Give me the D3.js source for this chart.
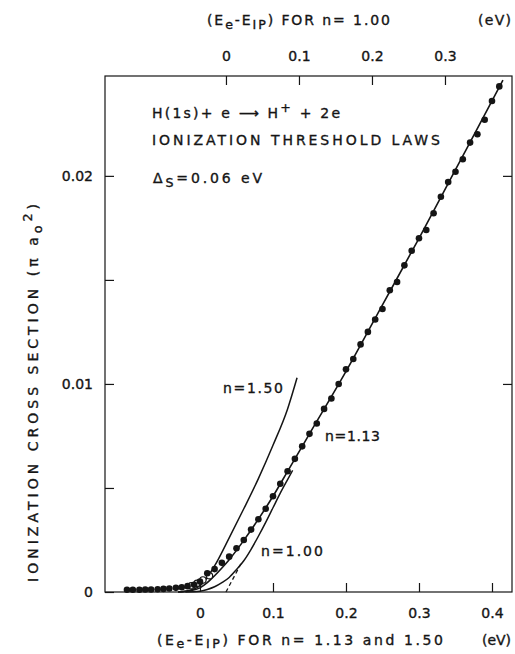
<!DOCTYPE html>
<html>
<head>
<meta charset="utf-8">
<script src="https://cdn.jsdelivr.net/npm/d3@7"></script>
<style>
  body { margin: 0; background: #fff; }
  svg text { font-family: "DejaVu Sans", "Liberation Sans", sans-serif; fill: #151515; stroke: #151515; stroke-width: 0.35px; }
</style>
</head>
<body>
<svg id="chart" width="515" height="654"></svg>
<script>
// Measured ionization cross section (filled circles), energy in eV, sigma in units of pi*a0^2
const measuredEnergy = [-0.100, -0.092, -0.083, -0.075, -0.067, -0.058, -0.050, -0.042, -0.033, -0.025, -0.017, -0.008,
  0.000, 0.010, 0.020, 0.030, 0.040, 0.050, 0.060, 0.070, 0.080, 0.090, 0.100, 0.110, 0.120, 0.130, 0.140,
  0.150, 0.160, 0.170, 0.180, 0.190, 0.200, 0.210, 0.220, 0.230, 0.240, 0.250, 0.260, 0.270, 0.280, 0.290,
  0.300, 0.310, 0.320, 0.330, 0.340, 0.350, 0.360, 0.370, 0.380, 0.390, 0.400, 0.410];
const measuredSigma = [0.00011, 0.00011, 0.00011, 0.00012, 0.00012, 0.00013, 0.00015, 0.00017, 0.00020, 0.00023, 0.00028, 0.00035,
  0.00050, 0.00090, 0.00110, 0.00140, 0.00170, 0.00210, 0.00250, 0.00300, 0.00350, 0.00400, 0.00460, 0.00520, 0.00580, 0.00640, 0.00700,
  0.00760, 0.00810, 0.00880, 0.00930, 0.01000, 0.01070, 0.01120, 0.01190, 0.01250, 0.01310, 0.01360, 0.01450, 0.01490, 0.01570, 0.01640,
  0.01700, 0.01740, 0.01820, 0.01900, 0.01970, 0.02020, 0.02080, 0.02160, 0.02200, 0.02270, 0.02360, 0.02430];

// Additional open-circle points near threshold
const openEnergy = [-0.012, -0.004, 0.004, 0.013];
const openSigma = [0.00030, 0.00042, 0.00058, 0.00078];

// Threshold law n = 1.13 (convolved), bottom-axis energy
const law113Energy = [-0.030, -0.020, -0.010, 0.000, 0.010, 0.020, 0.030, 0.040, 0.050, 0.060, 0.080, 0.100, 0.120, 0.150, 0.200, 0.250, 0.300, 0.350, 0.400, 0.415];
const law113Sigma  = [0.00000, 0.00003, 0.00008, 0.00020, 0.00045, 0.00078, 0.00115, 0.00155, 0.00200, 0.00248, 0.00350, 0.00460, 0.00580, 0.00760, 0.01060, 0.01380, 0.01700, 0.02030, 0.02360, 0.02460];

// Threshold law n = 1.50 (convolved), bottom-axis energy
const law150Energy = [-0.030, -0.020, -0.010, 0.000, 0.010, 0.020, 0.040, 0.060, 0.080, 0.100, 0.120, 0.133];
const law150Sigma  = [0.00000, 0.00004, 0.00012, 0.00030, 0.00070, 0.00125, 0.00260, 0.00400, 0.00545, 0.00705, 0.00880, 0.01030];

// Threshold law n = 1.00 (convolved), bottom-axis energy
const law100Energy = [-0.020, -0.010, 0.000, 0.010, 0.020, 0.030, 0.040, 0.050, 0.060, 0.070, 0.080, 0.090, 0.100, 0.110, 0.120, 0.127];
const law100Sigma  = [0.00000, 0.00001, 0.00004, 0.00012, 0.00025, 0.00045, 0.00070, 0.00108, 0.00150, 0.00205, 0.00268, 0.00335, 0.00405, 0.00475, 0.00540, 0.00585];

// Unconvolved linear law (n = 1.00), dashed onset
const linearEnergy = [0.0356, 0.0560];
const linearSigma = [0.0000, 0.00135];

// Tick values and labels
const bottomTicks = [0, 0.1, 0.2, 0.3, 0.4];
const topTicks = [0, 0.1, 0.2, 0.3];
const leftTicks = [0, 0.005, 0.01, 0.015, 0.02];
const leftLabels = {0: "0", 0.01: "0.01", 0.02: "0.02"};
const rightTicks = [0.01, 0.02];
const topShift = 0.0356; // threshold offset between the two energy scales

const svg = d3.select("#chart");
const plotL = 105, plotR = 512, plotT = 76, plotB = 592;

const x = d3.scaleLinear().domain([-0.1301, 0.4274]).range([plotL, plotR]);
const xTop = d3.scaleLinear().domain([-0.1301 - topShift, 0.4274 - topShift]).range([plotL, plotR]);
const y = d3.scaleLinear().domain([0, 0.0248]).range([plotB, plotT]);

const ink = "#151515";

// Frame
svg.append("rect").attr("x", plotL).attr("y", plotT).attr("width", plotR - plotL).attr("height", plotB - plotT)
  .attr("fill", "none").attr("stroke", ink).attr("stroke-width", 1.2);

const fmt1 = d => d === 0 ? "0" : d.toFixed(1);

function styleAxis(g) {
  g.select(".domain").remove();
  g.selectAll(".tick line").attr("stroke", ink).attr("stroke-width", 1.2);
  g.selectAll(".tick text").attr("font-size", 14).attr("fill", ink)
    .attr("font-family", "DejaVu Sans, sans-serif");
}

svg.append("g").attr("transform", `translate(0,${plotB})`)
  .call(d3.axisBottom(x).tickValues(bottomTicks).tickSize(-9).tickPadding(16).tickFormat(fmt1))
  .call(styleAxis);

svg.append("g").attr("transform", `translate(0,${plotT})`)
  .call(d3.axisTop(xTop).tickValues(topTicks).tickSize(-9).tickPadding(15).tickFormat(fmt1))
  .call(styleAxis);

svg.append("g").attr("transform", `translate(${plotL},0)`)
  .call(d3.axisLeft(y).tickValues(leftTicks).tickSize(-9).tickPadding(12).tickFormat(d => leftLabels[d] || ""))
  .call(styleAxis);

svg.append("g").attr("transform", `translate(${plotR},0)`)
  .call(d3.axisRight(y).tickValues(rightTicks).tickSize(-9).tickFormat(""))
  .call(styleAxis);

// Curves
const line = d3.line().x(d => x(d[0])).y(d => y(d[1])).curve(d3.curveMonotoneX);
const zip = (a, b) => a.map((v, i) => [v, b[i]]);

svg.append("path").datum(zip(law113Energy, law113Sigma)).attr("d", line)
  .attr("fill", "none").attr("stroke", ink).attr("stroke-width", 1.6);
svg.append("path").datum(zip(law150Energy, law150Sigma)).attr("d", line)
  .attr("fill", "none").attr("stroke", ink).attr("stroke-width", 1.5);
svg.append("path").datum(zip(law100Energy, law100Sigma)).attr("d", line)
  .attr("fill", "none").attr("stroke", ink).attr("stroke-width", 1.5);
svg.append("path").datum(zip(linearEnergy, linearSigma)).attr("d", d3.line().x(d => x(d[0])).y(d => y(d[1])))
  .attr("fill", "none").attr("stroke", ink).attr("stroke-width", 1.3).attr("stroke-dasharray", "4,3");

// Points
svg.append("g").selectAll("circle.open").data(zip(openEnergy, openSigma)).join("circle")
  .attr("cx", d => x(d[0])).attr("cy", d => y(d[1])).attr("r", 3.2)
  .attr("fill", "#fff").attr("stroke", ink).attr("stroke-width", 1.2);
svg.append("g").selectAll("circle.fill").data(zip(measuredEnergy, measuredSigma)).join("circle")
  .attr("cx", d => x(d[0])).attr("cy", d => y(d[1])).attr("r", 3.3)
  .attr("fill", ink);

// Text helpers
function label(xp, yp, parts, opts = {}) {
  const t = svg.append("text").attr("x", xp).attr("y", yp).attr("font-size", opts.size || 14);
  if (opts.len) t.attr("textLength", opts.len).attr("lengthAdjust", "spacing");
  if (opts.rotate) t.attr("transform", `rotate(-90,${xp},${yp})`).attr("text-anchor", "middle");
  parts.forEach(p => {
    const s = t.append("tspan").text(p.t);
    if (p.sub) s.attr("baseline-shift", opts.subShift || "-32%").attr("font-size", (opts.size || 14) * 0.9);
    if (p.sup) s.attr("baseline-shift", "45%").attr("font-size", (opts.size || 14) * 0.9);
  });
  return t;
}

// Axis titles
label(207, 25, [{t: "(E"}, {t: "e", sub: true}, {t: "-E"}, {t: "IP", sub: true}, {t: ") FOR  n= 1.00"}], {len: 183});
label(478, 25, [{t: "(eV)"}], {len: 33});
label(157, 645, [{t: "(E"}, {t: "e", sub: true}, {t: "-E"}, {t: "IP", sub: true}, {t: ") FOR  n= 1.13  and   1.50"}], {len: 286, subShift: "-22%"});
label(482, 645, [{t: "(eV)"}], {len: 29});
label(38, 393, [{t: "IONIZATION  CROSS  SECTION  (π a"}, {t: "o", sub: true}, {t: "2", sup: true}, {t: ")"}], {rotate: true, len: 378});

// Annotations
label(152, 118, [{t: "H(1s)+ e ⟶ H"}, {t: "+", sup: true}, {t: " + 2e"}], {len: 188});
label(152, 145, [{t: "IONIZATION  THRESHOLD  LAWS"}], {len: 288});
label(153, 183, [{t: "Δ"}, {t: "S", sub: true}, {t: "=0.06  eV"}], {len: 109});
label(223, 393, [{t: "n=1.50"}], {len: 60});
label(325, 441, [{t: "n=1.13"}], {len: 55});
label(261, 556, [{t: "n=1.00"}], {len: 62});
</script>
</body>
</html>
